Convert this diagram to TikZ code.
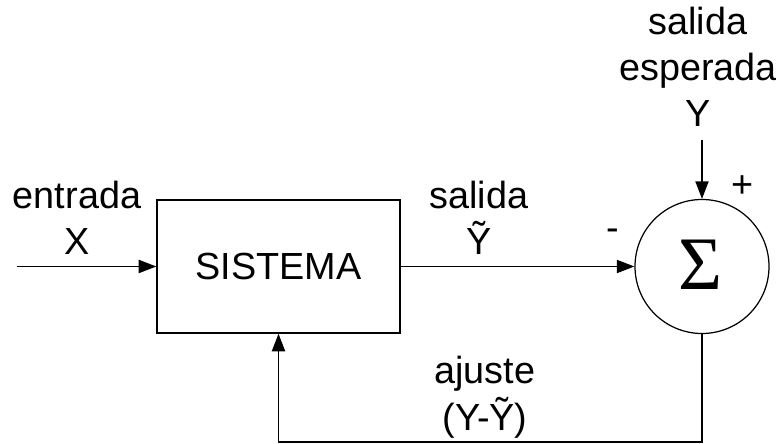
\documentclass[tikz,border=0pt]{standalone}
\usepackage{fontspec}
\setmainfont{Liberation Sans}
\newfontfamily\sigmafont{Liberation Serif}
\usetikzlibrary{arrows.meta}

\begin{document}
\begin{tikzpicture}[scale=0.2]
\tikzstyle{every node}+=[inner sep=0pt, font=\fontsize{21.5}{26.2}\selectfont]
\tikzstyle{flow}=[black, line width=0.8pt, -{Triangle[length=10pt,width=7.5pt]}]
\useasboundingbox (0,0) rectangle (77.9,-44.4);
% blocks
\node (sys) [draw, line width=0.8pt, minimum width=4.86cm, minimum height=2.66cm] at (27.85,-26.65) {SISTEMA};
\node (sum) [draw, circle, line width=0.7pt, minimum size=2.68cm] at (70.2,-26.65) {};
\node (sigma) at (70.0,-26.5) {\sigmafont\fontsize{43}{43}\selectfont Σ};
% loose ends
\coordinate (in) at (1.7,-26.65);
\coordinate (ref) at (70.2,-14.0);
\coordinate (fbr) at (70.2,-44.2);
% signals
\draw [flow] (in) -- (sys.west);
\draw [flow] (sys.east) -- (sum.west);
\draw [flow] (ref) -- (sum.north);
\draw [flow] (sum.south) -- (fbr) -- (sys.south |- fbr) -- (sys.south);
% labels (base = last line)
\node (xlab) [anchor=base, align=center] at (7.7,-25.5) {entrada\\X};
\node (ylab) [anchor=base, align=center] at (47.9,-25.5) {salida\\Ỹ};
\node (reflab) [anchor=base, align=center] at (69.8,-12.7) {salida\\esperada\\Y};
\node (fblab) [anchor=base, align=center] at (48.5,-43.0) {ajuste\\(Y-Ỹ)};
\node (minus) at (61.3,-23.5) {-};
\node (plus) at (74.3,-18.7) {+};
\end{tikzpicture}
\end{document}
